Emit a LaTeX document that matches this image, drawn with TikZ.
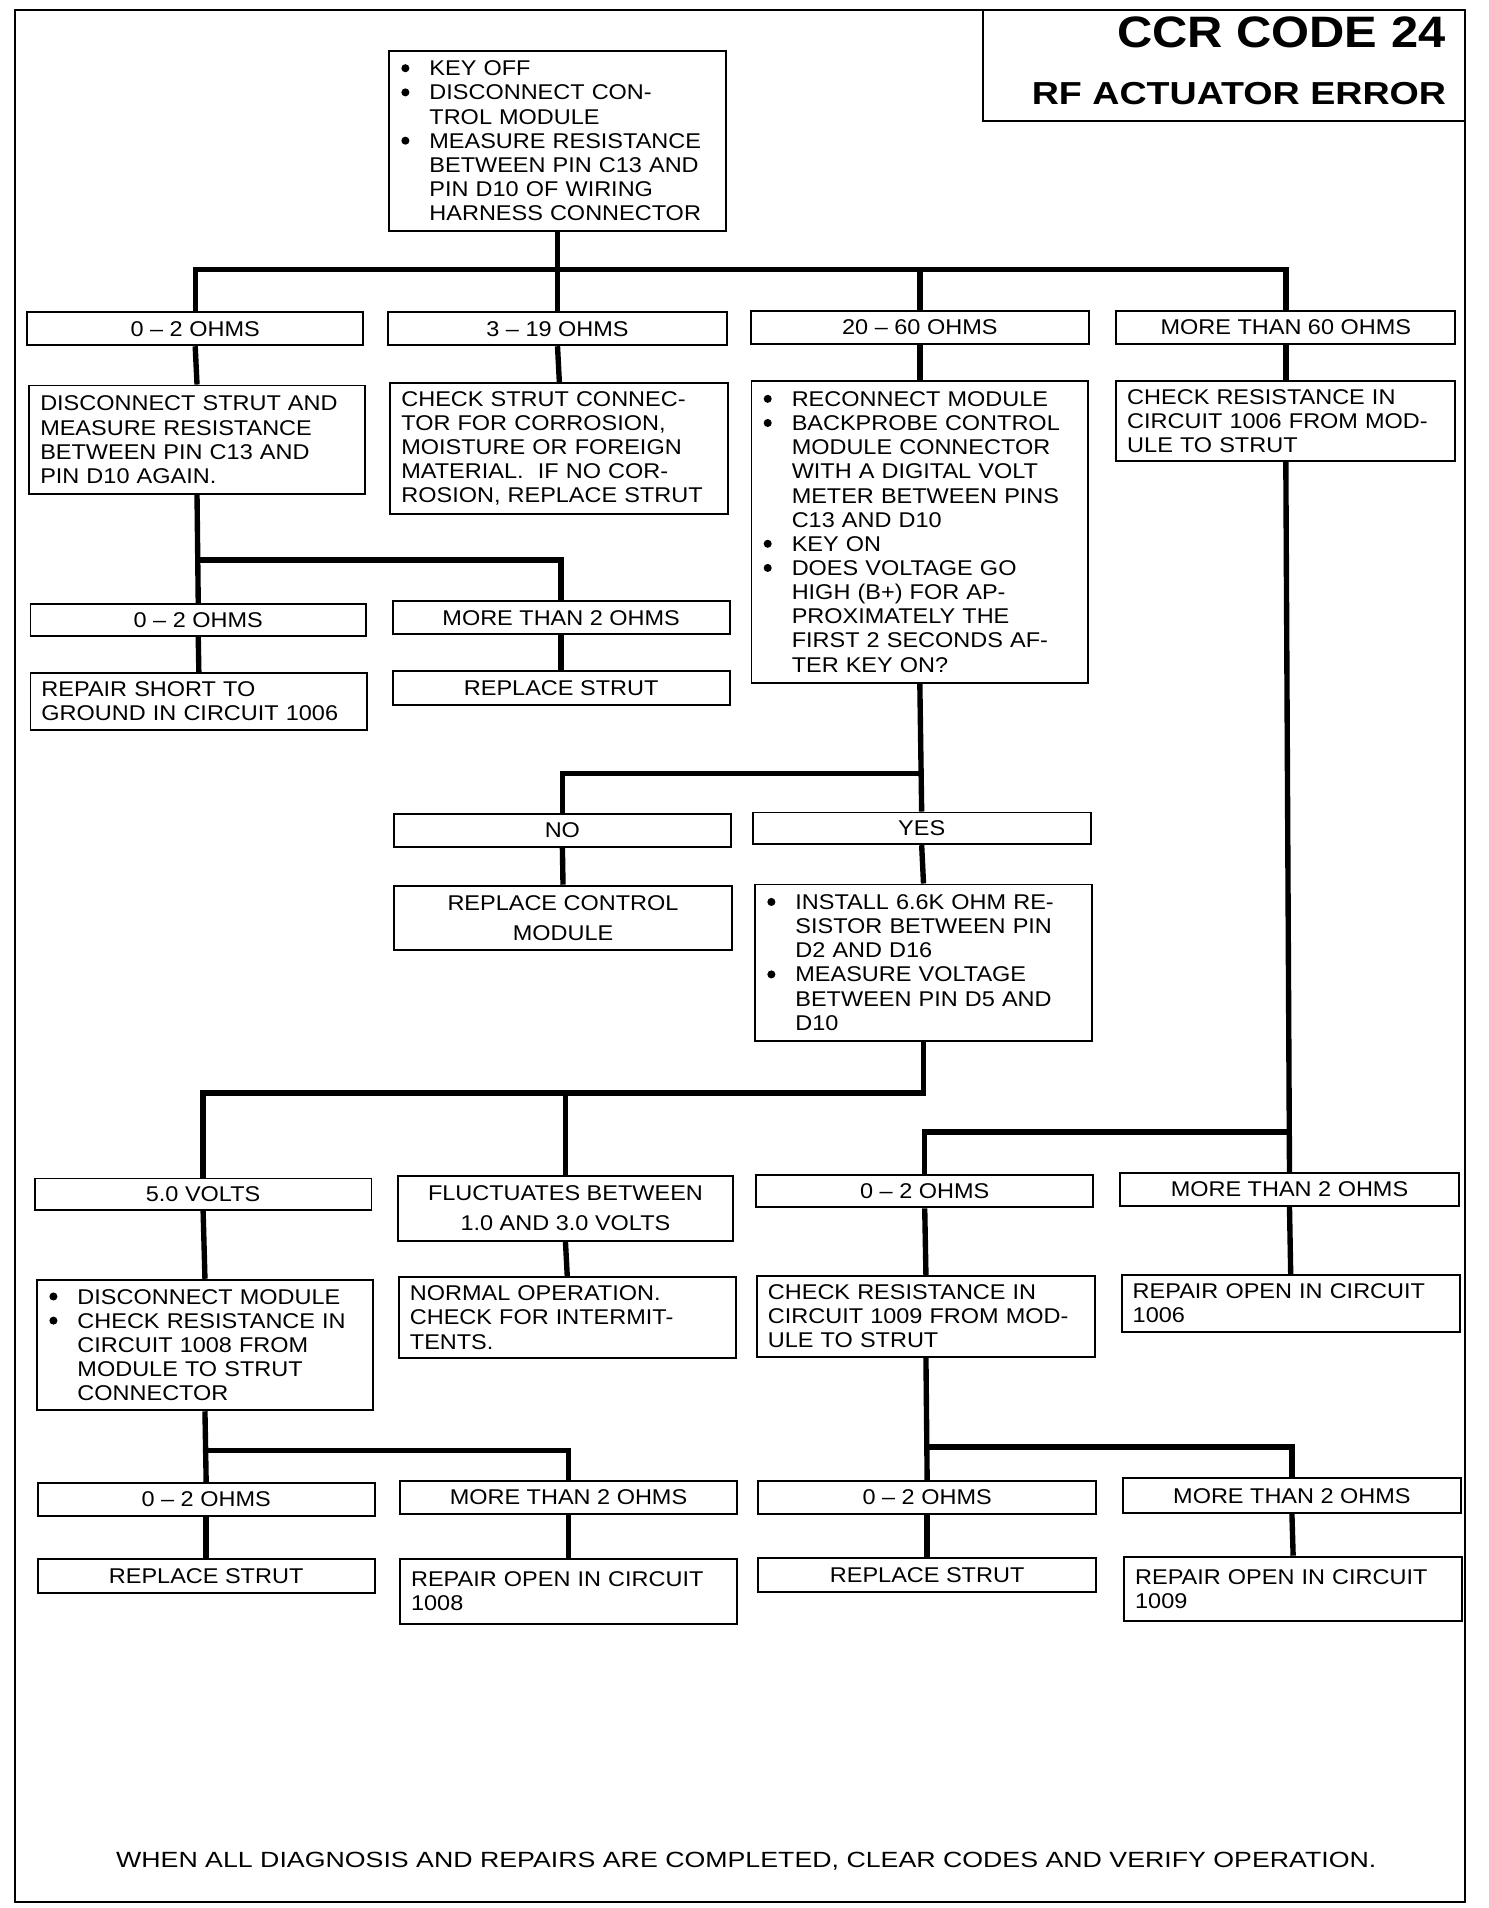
\documentclass[tikz,border=0pt]{standalone}
\usepackage{fontspec}
\setmainfont{Liberation Sans}[FakeStretch=1.1]
\usepackage{graphicx}
\newcommand{\boxfont}{\fontsize{17.5}{19.8}\selectfont}
\newcommand{\bul}{\makebox[24pt][l]{\hspace*{1pt}\raisebox{2.9pt}{\tikz\fill[black] (0,0) circle (3.3pt);}}}
\newcommand{\ind}{\hspace*{24pt}}
\tikzset{
  box/.style={draw, line width=1.6pt, inner xsep=9pt, inner ysep=0pt, font=\boxfont, align=left},
  lbl/.style={draw, line width=1.6pt, inner sep=0pt, font=\boxfont, align=center},
  conn/.style={line width=4.4pt},
  frame/.style={line width=1.6pt},
}
\begin{document}
\begin{tikzpicture}[x=1pt, y=-1pt]
\useasboundingbox (0,0) rectangle (1220,1564);
\fill[white] (0,0) rectangle (1220,1564);
% outer frame and title
\draw[frame] (12,8) rectangle (1201,1559);
\draw[frame] (806,8) rectangle (1201,99);
\node[anchor=base east, inner sep=0pt] (t1) at (1185,39.2) {\resizebox{269pt}{25.2pt}{\bfseries CCR CODE 24}};
\node[anchor=base east, inner sep=0pt] (t2) at (1185.6,85.4) {\resizebox{339.6pt}{18.2pt}{\bfseries RF ACTUATOR ERROR}};
\node[anchor=base west, inner sep=0pt] (foot) at (95,1531) {\resizebox{1033pt}{12.6pt}{WHEN ALL DIAGNOSIS AND REPAIRS ARE COMPLETED, CLEAR CODES AND VERIFY OPERATION.}};

% top
\node[box, minimum width=276pt, text width=258pt, minimum height=147pt] (top) at (457,115.5)
 {\bul KEY OFF\\ \bul DISCONNECT CON-\\ \ind TROL MODULE\\ \bul MEASURE RESISTANCE\\ \ind BETWEEN PIN C13 AND\\ \ind PIN D10 OF WIRING\\ \ind HARNESS CONNECTOR};

% row 1
\node[lbl, minimum width=275pt, minimum height=27pt] (r1a) at (160,269.5) {0 – 2 OHMS};
\node[lbl, minimum width=278pt, minimum height=27pt] (r1b) at (457,269.5) {3 – 19 OHMS};
\node[lbl, minimum width=277pt, minimum height=27pt] (r1c) at (754,268.5) {20 – 60 OHMS};
\node[lbl, minimum width=278pt, minimum height=27pt] (r1d) at (1054,268.5) {MORE THAN 60 OHMS};

% row 2
\node[box, minimum width=275pt, text width=257pt, minimum height=89pt] (a1) at (161.5,360.5)
 {DISCONNECT STRUT AND\\ MEASURE RESISTANCE\\ BETWEEN PIN C13 AND\\ PIN D10 AGAIN.};
\node[box, minimum width=277pt, text width=259pt, minimum height=107pt] (b1) at (458.5,367.5)
 {CHECK STRUT CONNEC-\\ TOR FOR CORROSION,\\ MOISTURE OR FOREIGN\\ MATERIAL.\ \ IF NO COR-\\ ROSION, REPLACE STRUT};
\node[box, minimum width=276pt, text width=258pt, minimum height=248pt] (c1) at (754,436)
 {\bul RECONNECT MODULE\\ \bul BACKPROBE CONTROL\\ \ind MODULE CONNECTOR\\ \ind WITH A DIGITAL VOLT\\ \ind METER BETWEEN PINS\\ \ind C13 AND D10\\ \bul KEY ON\\ \bul DOES VOLTAGE GO\\ \ind HIGH (B+) FOR AP-\\ \ind PROXIMATELY THE\\ \ind FIRST 2 SECONDS AF-\\ \ind TER KEY ON?};
\node[box, minimum width=278pt, text width=260pt, minimum height=65pt] (d1) at (1054,345)
 {CHECK RESISTANCE IN\\ CIRCUIT 1006 FROM MOD-\\ ULE TO STRUT};

% branch under a1
\node[lbl, minimum width=275pt, minimum height=26pt] (a2) at (162.5,508) {0 – 2 OHMS};
\node[lbl, minimum width=276pt, minimum height=27pt] (a3) at (460,506.5) {MORE THAN 2 OHMS};
\node[box, minimum width=276pt, text width=258pt, minimum height=46pt] (a4) at (163,575)
 {REPAIR SHORT TO\\ GROUND IN CIRCUIT 1006};
\node[lbl, minimum width=276pt, minimum height=28pt] (a5) at (460,564) {REPLACE STRUT};

% branch under c1
\node[lbl, minimum width=276pt, minimum height=27pt] (n1) at (461,680.5) {NO};
\node[lbl, minimum width=277pt, minimum height=26pt] (y1) at (755.5,679) {YES};
\node[lbl, minimum width=277pt, minimum height=53pt] (n2) at (461.5,752.5) {REPLACE CONTROL\\[5pt] MODULE};
\node[box, minimum width=276pt, text width=258pt, minimum height=128pt] (y2) at (757,789)
 {\bul INSTALL 6.6K OHM RE-\\ \ind SISTOR BETWEEN PIN\\ \ind D2 AND D16\\ \bul MEASURE VOLTAGE\\ \ind BETWEEN PIN D5 AND\\ \ind D10};

% branch under y2
\node[lbl, minimum width=276pt, minimum height=26pt] (v1) at (166.5,979) {5.0 VOLTS};
\node[lbl, minimum width=275pt, minimum height=53pt] (v2) at (463.5,990.5) {FLUCTUATES BETWEEN\\[5pt] 1.0 AND 3.0 VOLTS};
\node[box, minimum width=275pt, text width=257pt, minimum height=107pt] (v3) at (168,1102.5)
 {\bul DISCONNECT MODULE\\ \bul CHECK RESISTANCE IN\\ \ind CIRCUIT 1008 FROM\\ \ind MODULE TO STRUT\\ \ind CONNECTOR};
\node[box, minimum width=276pt, text width=258pt, minimum height=66pt] (v4) at (465,1080)
 {NORMAL OPERATION.\\ CHECK FOR INTERMIT-\\ TENTS.};
\node[lbl, minimum width=276pt, minimum height=27pt] (v5) at (169,1229) {0 – 2 OHMS};
\node[lbl, minimum width=276pt, minimum height=27pt] (v6) at (466,1227.5) {MORE THAN 2 OHMS};
\node[lbl, minimum width=276pt, minimum height=27.5pt] (v7) at (169,1292) {REPLACE STRUT};
\node[box, minimum width=276pt, text width=258pt, minimum height=53pt] (v8) at (466,1304.5)
 {REPAIR OPEN IN CIRCUIT\\ 1008};

% right branch
\node[lbl, minimum width=276pt, minimum height=26.5pt] (w1) at (758,976.5) {0 – 2 OHMS};
\node[lbl, minimum width=278pt, minimum height=27pt] (w2) at (1057,975) {MORE THAN 2 OHMS};
\node[box, minimum width=277pt, text width=259pt, minimum height=66pt] (w3) at (759,1079)
 {CHECK RESISTANCE IN\\ CIRCUIT 1009 FROM MOD-\\ ULE TO STRUT};
\node[box, minimum width=277pt, text width=259pt, minimum height=47pt] (w4) at (1058,1068.5)
 {REPAIR OPEN IN CIRCUIT\\ 1006};
\node[lbl, minimum width=277pt, minimum height=27pt] (w5) at (760,1227.5) {0 – 2 OHMS};
\node[lbl, minimum width=277pt, minimum height=28.5pt] (w6) at (1059,1226) {MORE THAN 2 OHMS};
\node[lbl, minimum width=277pt, minimum height=27.5pt] (w7) at (760,1291) {REPLACE STRUT};
\node[box, minimum width=277pt, text width=259pt, minimum height=53pt] (w8) at (1060,1302.5)
 {REPAIR OPEN IN CIRCUIT\\ 1009};

% connectors
\coordinate (j1) at (457,221);
\draw[conn] (top.south) -- (j1);
\draw[conn] (r1a.north) |- (j1) -| (r1d.north);
\draw[conn] (j1) -- (r1b.north);
\draw[conn] (r1c.north |- j1) -- (r1c.north);
\draw[conn] (r1a.south) -- (a1.north);
\draw[conn] (r1b.south) -- (b1.north);
\draw[conn] (r1c.south) -- (c1.north);
\draw[conn] (r1d.south) -- (d1.north);

\coordinate (j2) at (162,459);
\draw[conn] (a1.south) -- (a2.north);
\draw[conn] (j2) -| (a3.north);
\draw[conn] (a2.south) -- (a4.north);
\draw[conn] (a3.south) -- (a5.north);

\coordinate (j3) at (755,634);
\draw[conn] (c1.south) -- (y1.north);
\draw[conn] (j3) -| (n1.north);
\draw[conn] (n1.south) -- (n2.north);
\draw[conn] (y1.south) -- (y2.north);

\coordinate (j4) at (757,896);
\draw[conn] (y2.south) -- (j4) -| (v1.north);
\draw[conn] (v2.north |- j4) -- (v2.north);
\draw[conn] (v1.south) -- (v3.north);
\draw[conn] (v2.south) -- (v4.north);
\coordinate (j5) at (168.5,1189);
\draw[conn] (v3.south) -- (v5.north);
\draw[conn] (j5) -| (v6.north);
\draw[conn] (v5.south) -- (v7.north);
\draw[conn] (v6.south) -- (v8.north);

\coordinate (j6) at (1055.5,928);
\draw[conn] (d1.south) -- (w2.north);
\draw[conn] (j6) -| (w1.north);
\draw[conn] (w1.south) -- (w3.north);
\draw[conn] (w2.south) -- (w4.north);
\coordinate (j7) at (759.5,1186);
\draw[conn] (w3.south) -- (w5.north);
\draw[conn] (j7) -| (w6.north);
\draw[conn] (w5.south) -- (w7.north);
\draw[conn] (w6.south) -- (w8.north);
\end{tikzpicture}
\end{document}
